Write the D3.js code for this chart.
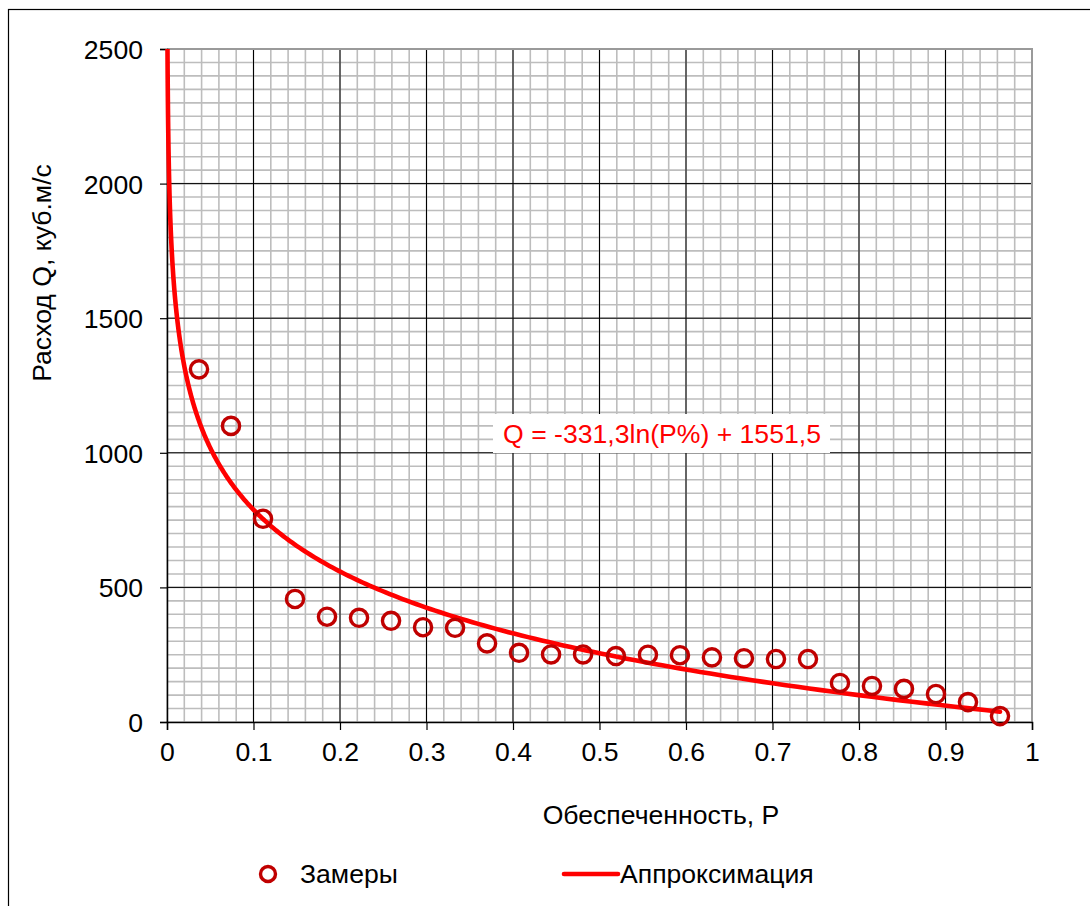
<!DOCTYPE html>
<html>
<head>
<meta charset="utf-8">
<script src="https://cdn.jsdelivr.net/npm/d3@7"></script>
<style>
  html, body { margin: 0; padding: 0; background: #fff; }
  svg { display: block; font-family: "Liberation Sans", Arial, sans-serif; }
</style>
</head>
<body>
<svg id="chart" width="1090" height="906"></svg>
<script>
// Exceedance probability of each measurement (m / (n + 1), n = 26)
const probability = [0.037, 0.074, 0.111, 0.148, 0.185, 0.222, 0.259, 0.296, 0.333,
  0.370, 0.407, 0.444, 0.481, 0.519, 0.556, 0.593, 0.630, 0.667, 0.704, 0.741,
  0.778, 0.815, 0.852, 0.889, 0.926, 0.963];
// Measured discharge, m³/s
const discharge = [1310, 1100, 755, 457, 391, 387, 376, 352, 350,
  292, 257, 251, 251, 245, 250, 248, 240, 237, 234, 234,
  145, 134, 123, 104, 74, 22];
// Logarithmic trend: Q = a·ln(P%) + b
const trendA = -331.3;
const trendB = 1551.5;
const trendLabel = "Q = -331,3ln(P%) + 1551,5";
const xTicks = [0, 0.1, 0.2, 0.3, 0.4, 0.5, 0.6, 0.7, 0.8, 0.9, 1];
const xTickLabels = ["0", "0.1", "0.2", "0.3", "0.4", "0.5", "0.6", "0.7", "0.8", "0.9", "1"];
const yTicks = [0, 500, 1000, 1500, 2000, 2500];
const legendLabels = ["Замеры", "Аппроксимация"];
const xTitle = "Обеспеченность, P";
const yTitle = "Расход Q, куб.м/с";

const FS = 26.6;
const svg = d3.select("#chart");
const plotL = 167, plotR = 1032, plotT = 49, plotB = 722;

const x = d3.scaleLinear().domain([0, 1]).range([plotL, plotR]);
const y = d3.scaleLinear().domain([0, 2500]).range([plotB, plotT]);

// outer frame
svg.append("rect").attr("x", 8.5).attr("y", 9.5).attr("width", 1200).attr("height", 1200)
  .attr("fill", "none").attr("stroke", "#000").attr("stroke-width", 1.2);

const grid = svg.append("g");
// minor grid
const xMinor = d3.range(0, 51).map(i => i * 0.02);
const yMinor = d3.range(0, 51).map(i => i * 50);
grid.selectAll(".vminor").data(xMinor).join("line")
  .attr("x1", d => x(d)).attr("x2", d => x(d)).attr("y1", plotT).attr("y2", plotB)
  .attr("stroke", "#bdbdbd").attr("stroke-width", 1.6);
grid.selectAll(".hminor").data(yMinor).join("line")
  .attr("x1", plotL).attr("x2", plotR).attr("y1", d => y(d)).attr("y2", d => y(d))
  .attr("stroke", "#bdbdbd").attr("stroke-width", 1.6);
// major grid
grid.selectAll(".vmajor").data(xTicks.slice(1, -1)).join("line")
  .attr("x1", d => x(d)).attr("x2", d => x(d)).attr("y1", plotT).attr("y2", plotB)
  .attr("stroke", "#000").attr("stroke-width", 1);
grid.selectAll(".hmajor").data(yTicks.slice(1, -1)).join("line")
  .attr("x1", plotL).attr("x2", plotR).attr("y1", d => y(d)).attr("y2", d => y(d))
  .attr("stroke", "#000").attr("stroke-width", 1);
// top and right plot border
grid.append("path")
  .attr("d", `M${plotL},${plotT}H${plotR}V${plotB}`)
  .attr("fill", "none").attr("stroke", "#9a9a9a").attr("stroke-width", 2);

// axes
const xAxis = d3.axisBottom(x).tickValues(xTicks).tickFormat((d, i) => xTickLabels[i])
  .tickSize(8).tickPadding(12);
const yAxis = d3.axisLeft(y).tickValues(yTicks).tickFormat(d => d)
  .tickSize(7).tickPadding(17);
const gx = svg.append("g").attr("transform", `translate(0,${plotB})`).call(xAxis);
const gy = svg.append("g").attr("transform", `translate(${plotL},0)`).call(yAxis);
[gx, gy].forEach(g => {
  g.select(".domain").attr("stroke", "#000").attr("stroke-width", 1.5);
  g.selectAll(".tick line").attr("stroke", "#000").attr("stroke-width", 1.2);
  g.selectAll("text").attr("font-size", FS).attr("fill", "#000")
    .attr("font-family", "'Liberation Sans', Arial, sans-serif");
});
gy.selectAll("text").attr("dy", "0.36em");

// trend curve
const clip = svg.append("clipPath").attr("id", "plotClip");
clip.append("rect").attr("x", plotL - 5).attr("y", plotT).attr("width", plotR - plotL + 10).attr("height", plotB - plotT);
const pStart = Math.exp((2500 - trendB) / trendA) / 100;
const pEnd = probability[probability.length - 1];
const curveP = d3.range(0, 401).map(i => pStart * Math.pow(pEnd / pStart, i / 400));
const line = d3.line().x(p => x(p)).y(p => y(trendA * Math.log(p * 100) + trendB)).curve(d3.curveLinear);
svg.append("path").datum(curveP)
  .attr("clip-path", "url(#plotClip)")
  .attr("d", line).attr("fill", "none").attr("stroke", "#ff0000")
  .attr("stroke-width", 4.6).attr("stroke-linejoin", "round").attr("stroke-linecap", "round");

// measurements
svg.selectAll(".pt").data(probability).join("circle")
  .attr("cx", d => x(d)).attr("cy", (d, i) => y(discharge[i])).attr("r", 8.6)
  .attr("fill", "none").attr("stroke", "#c00000").attr("stroke-width", 3.4);

// equation label
const eqG = svg.append("g");
eqG.append("rect").attr("x", 493).attr("y", 414).attr("width", 337).attr("height", 39).attr("fill", "#fff");
eqG.append("text").attr("x", 662).attr("y", 443).attr("text-anchor", "middle")
  .attr("font-size", FS).attr("fill", "#ff0000").text(trendLabel);

// axis titles
svg.append("text").attr("x", 661).attr("y", 824).attr("text-anchor", "middle")
  .attr("font-size", FS).attr("fill", "#000").text(xTitle);
svg.append("text").attr("transform", "translate(51,273) rotate(-90)").attr("text-anchor", "middle")
  .attr("font-size", FS).attr("fill", "#000").text(yTitle);

// legend
const lg = svg.append("g");
lg.append("circle").attr("cx", 268).attr("cy", 874).attr("r", 7.5)
  .attr("fill", "none").attr("stroke", "#c00000").attr("stroke-width", 3.4);
lg.append("text").attr("x", 300).attr("y", 883).attr("font-size", FS).attr("fill", "#000").text(legendLabels[0]);
lg.append("line").attr("x1", 564).attr("x2", 618).attr("y1", 874).attr("y2", 874)
  .attr("stroke", "#ff0000").attr("stroke-width", 4.6).attr("stroke-linecap", "round");
lg.append("text").attr("x", 620).attr("y", 883).attr("font-size", FS).attr("fill", "#000").text(legendLabels[1]);
</script>
</body>
</html>
